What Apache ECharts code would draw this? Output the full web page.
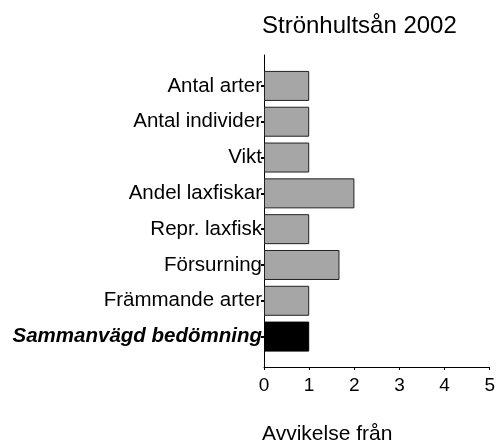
<!DOCTYPE html>
<html>
<head>
<meta charset="utf-8">
<script src="https://cdn.jsdelivr.net/npm/echarts@6/dist/echarts.min.js"></script>
<style>
  html, body { margin: 0; padding: 0; background: #fff; }
  #chart-container { width: 498px; height: 441px; }
</style>
</head>
<body>
<div id="chart-container"></div>
<script>
var categories = ['Antal arter', 'Antal individer', 'Vikt', 'Andel laxfiskar',
  'Repr. laxfisk', 'Försurning', 'Främmande arter', 'Sammanvägd bedömning'];
var values = [1, 1, 1, 2, 1, 1.67, 1, 1];
var xTicks = [0, 1, 2, 3, 4, 5];

var dom = document.getElementById('chart-container');
var myChart = echarts.init(dom, null, { renderer: 'canvas' });

var font = 'Liberation Sans, Arial, sans-serif';

var option = {
  animation: false,
  textStyle: { fontFamily: font },
  title: [
    {
      text: 'Strönhultsån 2002',
      left: 262, top: 14, padding: 0,
      textStyle: { fontSize: 24, fontWeight: 'normal', color: '#000', fontFamily: font }
    },
    {
      text: 'Avvikelse från',
      left: 262, top: 424, padding: 0,
      textStyle: { fontSize: 21, fontWeight: 'normal', color: '#000', fontFamily: font }
    }
  ],
  grid: [
    { left: 264, right: 8, top: 68, bottom: 86.5 },
    { left: 264, right: 8, top: 55, bottom: 74 }
  ],
  xAxis: [
    { type: 'value', gridIndex: 0, min: xTicks[0], max: xTicks[xTicks.length - 1], show: false },
    {
      type: 'value', gridIndex: 1, min: xTicks[0], max: xTicks[xTicks.length - 1], interval: 1,
      axisLine: { show: true, lineStyle: { color: '#000', width: 1 } },
      axisTick: { show: true, length: 3, lineStyle: { color: '#000' } },
      splitLine: { show: false },
      axisLabel: { fontSize: 19, color: '#000', margin: 9, fontFamily: font }
    }
  ],
  yAxis: [
    {
      type: 'category', gridIndex: 0, data: categories, inverse: true,
      axisLine: { show: false },
      axisTick: { show: true, length: 3, alignWithLabel: true, lineStyle: { color: '#000', width: 2 } },
      axisLabel: {
        fontSize: 20.5, color: '#000', margin: 2, fontFamily: font,
        formatter: function (v) {
          return v === 'Sammanvägd bedömning' ? '{b|' + v + '}' : v;
        },
        rich: {
          b: { fontSize: 20.5, fontWeight: 'bold', fontStyle: 'italic', color: '#000', fontFamily: font }
        }
      }
    },
    {
      type: 'value', gridIndex: 1,
      axisLine: { show: true, onZero: false, lineStyle: { color: '#000', width: 1 } },
      axisTick: { show: false },
      axisLabel: { show: false },
      splitLine: { show: false }
    }
  ],
  series: [
    {
      type: 'bar',
      xAxisIndex: 0,
      yAxisIndex: 0,
      barWidth: 30,
      data: values.map(function (v, i) {
        var last = i === values.length - 1;
        return {
          value: v,
          itemStyle: {
            color: last ? '#000' : '#a6a6a6',
            borderColor: last ? '#000' : '#222',
            borderWidth: 1
          }
        };
      })
    }
  ]
};

myChart.setOption(option);
window.addEventListener('resize', myChart.resize);
</script>
</body>
</html>
